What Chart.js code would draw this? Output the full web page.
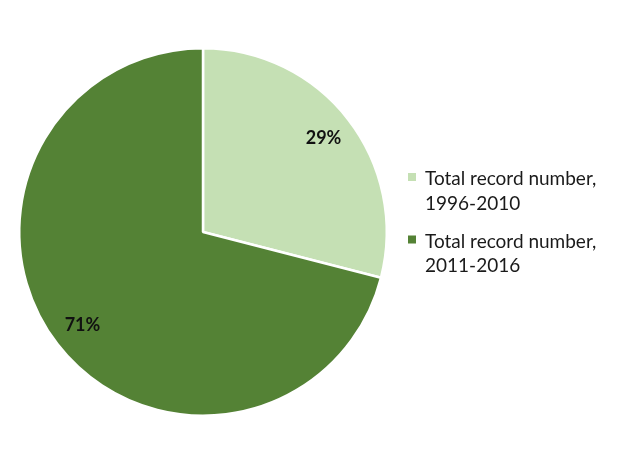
<!DOCTYPE html>
<html lang="en">
<head>
    <meta charset="UTF-8">
    <title>Total record number</title>
    <style>
        body {
            margin: 0;
            padding: 0;
            background: #ffffff;
        }
        .chart {
            width: 624px;
            height: 467px;
        }
    </style>
    <script src="https://cdn.jsdelivr.net/npm/chart.js"></script>
</head>
<body>
    <div class="chart">
        <canvas id="chartCanvas" width="624" height="467"></canvas>
    </div>

    <script>
        const categories = [
            ['Total record number,', '1996-2010'],
            ['Total record number,', '2011-2016']
        ];
        const shares = [29, 71];
        const sliceColors = ['#c5e0b4', '#548235'];

        // percentage labels inside the slices
        const sliceLabels = {
            id: 'sliceLabels',
            afterDatasetsDraw(chart) {
                const ctx = chart.ctx;
                const meta = chart.getDatasetMeta(0);
                const total = shares.reduce((a, b) => a + b, 0);
                ctx.save();
                ctx.font = 'bold 18px Lato';
                ctx.fillStyle = '#111';
                ctx.textAlign = 'center';
                ctx.textBaseline = 'middle';
                meta.data.forEach((arc, i) => {
                    const mid = (arc.startAngle + arc.endAngle) / 2;
                    const r = arc.outerRadius * 0.83;
                    const x = arc.x + Math.cos(mid) * r;
                    const y = arc.y + Math.sin(mid) * r;
                    ctx.fillText(Math.round(shares[i] / total * 100) + '%', x, y);
                });
                ctx.restore();
            }
        };

        // two-line legend on the right
        const sideLegend = {
            id: 'sideLegend',
            afterDraw(chart) {
                const ctx = chart.ctx;
                ctx.save();
                ctx.font = '19px Lato';
                ctx.textBaseline = 'alphabetic';
                const baselines = [185, 247.5];
                categories.forEach((lines, i) => {
                    ctx.fillStyle = sliceColors[i];
                    ctx.fillRect(408, baselines[i] - 12, 8, 8);
                    ctx.fillStyle = '#1a1a1a';
                    lines.forEach((t, j) => ctx.fillText(t, 425, baselines[i] + j * 24.5));
                });
                ctx.restore();
            }
        };

        new Chart(document.getElementById('chartCanvas'), {
            type: 'pie',
            data: {
                labels: categories,
                datasets: [{
                    data: shares,
                    backgroundColor: sliceColors,
                    borderColor: '#ffffff',
                    borderWidth: 2.5
                }]
            },
            options: {
                responsive: false,
                animation: false,
                layout: {
                    padding: { left: 18, right: 236, top: 47, bottom: 50 }
                },
                plugins: {
                    legend: { display: false },
                    tooltip: { enabled: false }
                }
            },
            plugins: [sliceLabels, sideLegend]
        });
    </script>
</body>
</html>
